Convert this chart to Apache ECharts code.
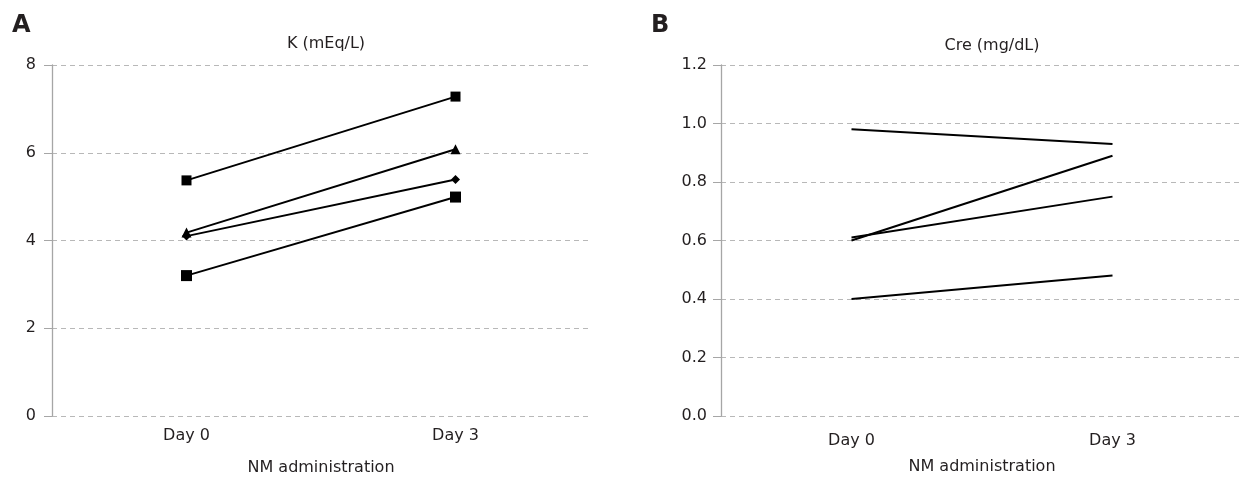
<!DOCTYPE html>
<html>
<head>
<meta charset="utf-8">
<script src="https://cdn.jsdelivr.net/npm/echarts@6/dist/echarts.min.js"></script>
<style>
html,body{margin:0;padding:0;background:#fff;}
#c{width:1243px;height:481px;}
</style>
</head>
<body>
<div id="c"></div>
<script>
// Categories
const days = ['Day 0', 'Day 3'];
// Panel A: K (mEq/L)
const kSquareHigh = [5.37, 7.28];
const kTriangle = [4.18, 6.08];
const kDiamond = [4.1, 5.39];
const kSquareLow = [3.2, 4.99];
// Panel B: Cre (mg/dL)
const cre1 = [0.98, 0.93];
const cre2 = [0.60, 0.89];
const cre3 = [0.61, 0.75];
const cre4 = [0.40, 0.48];

const FONT = 'DejaVu Sans';
const TXT = '#231f20';
const chart = echarts.init(document.getElementById('c'), null, {renderer: 'canvas'});

function yAxis(gi, max, interval, dec, margin) {
  return {
    type: 'value', gridIndex: gi, min: 0, max: max, interval: interval,
    axisLine: {show: true, lineStyle: {color: '#a6a6a6', width: 1.3}},
    axisTick: {show: true, length: 8, lineStyle: {color: '#a6a6a6', width: 1}},
    axisLabel: {margin: margin, fontFamily: FONT, fontSize: 16, color: TXT,
      formatter: v => v.toFixed(dec)},
    splitLine: {show: true, lineStyle: {color: '#b8b8b8', type: [5, 4], width: 1}}
  };
}
function xAxis(gi, margin, nameGap) {
  return {
    type: 'category', gridIndex: gi, data: days, boundaryGap: true,
    axisLine: {show: false}, axisTick: {show: false},
    axisLabel: {margin: margin, fontFamily: FONT, fontSize: 16, color: TXT},
    name: 'NM administration', nameLocation: 'middle', nameGap: nameGap,
    nameTextStyle: {fontFamily: FONT, fontSize: 16, color: TXT}
  };
}
function line(name, data, xi, sym, size) {
  return {
    name: name, type: 'line', xAxisIndex: xi, yAxisIndex: xi, data: data,
    symbol: sym || 'none', symbolSize: size || 0, showSymbol: !!sym,
    lineStyle: {color: '#000', width: 2}, itemStyle: {color: '#000'},
    animation: false, silent: true, z: 3
  };
}

chart.setOption({
  backgroundColor: '#fff',
  animation: false,
  title: [
    {text: 'K (mEq/L)', left: 321, top: 31, textAlign: 'center',
     textStyle: {fontFamily: FONT, fontSize: 16, fontWeight: 'normal', color: TXT}},
    {text: 'Cre (mg/dL)', left: 987, top: 33, textAlign: 'center',
     textStyle: {fontFamily: FONT, fontSize: 16, fontWeight: 'normal', color: TXT}},
    {text: 'A', left: 7, top: 9,
     textStyle: {fontFamily: FONT, fontSize: 24, fontWeight: 'bold', color: TXT}},
    {text: 'B', left: 646, top: 9,
     textStyle: {fontFamily: FONT, fontSize: 24, fontWeight: 'bold', color: TXT}}
  ],
  grid: [
    {left: 52, top: 65, width: 538, height: 351},
    {left: 721, top: 65, width: 526, height: 351}
  ],
  xAxis: [xAxis(0, 12, 44), xAxis(1, 17, 43)],
  yAxis: [yAxis(0, 8, 2, 0, 16), yAxis(1, 1.2, 0.2, 1, 14)],
  series: [
    line('K1', kSquareHigh, 0, 'rect', 10),
    line('K2', kTriangle, 0, 'triangle', 10),
    line('K3', kDiamond, 0, 'diamond', 9),
    line('K4', kSquareLow, 0, 'rect', 11),
    line('Cre1', cre1, 1),
    line('Cre2', cre2, 1),
    line('Cre3', cre3, 1),
    line('Cre4', cre4, 1)
  ]
});
</script>
</body>
</html>
